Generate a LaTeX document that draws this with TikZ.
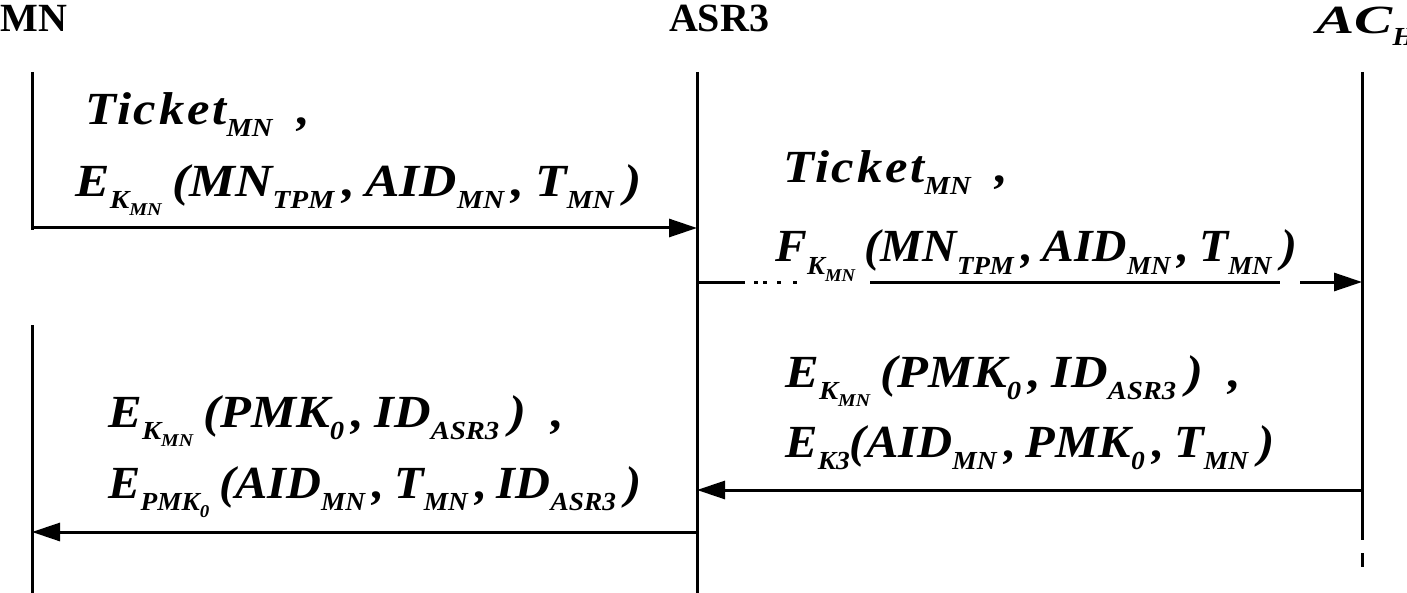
\documentclass[tikz,border=0pt]{standalone}
\usepackage{fontspec}
\setmainfont{Liberation Serif}
\newfontfamily\msgfam[FakeStretch=1.1]{Liberation Serif}
\newfontfamily\tickfam[FakeStretch=1.1,LetterSpace=6]{Liberation Serif}
\usetikzlibrary{arrows.meta}
\newcommand\lsub[1]{\raisebox{-6pt}{\fontsize{13}{13}\selectfont #1}}
\newcommand\lsubsub[1]{\raisebox{-3.5pt}{\fontsize{9}{9}\selectfont #1}}
\newcommand\tck{{\tickfam\bfseries\itshape Ticket}}
\newcommand\hs[2]{\scalebox{#1}[1]{#2}}
\begin{document}
\begin{tikzpicture}[x=0.5pt,y=-0.5pt,
  life/.style={line width=1.5pt},
  msg/.style={line width=1.5pt,-{Triangle[length=14pt,width=9pt]}},
  head/.style={font=\bfseries\fontsize{20}{22}\selectfont,inner sep=0pt},
  txt/.style={font=\msgfam\bfseries\itshape\fontsize{23}{26}\selectfont,inner sep=0pt,anchor=base west}]
\useasboundingbox (0,0) rectangle (1407,593);
% heads
\node[head,anchor=west] (mn) at (0,18) {MN};
\node[head] (asr) at (719,18) {ASR3};
\node[head,font=\msgfam\bfseries\itshape\fontsize{20}{22}\selectfont,anchor=base west] (ac) at (1316,34) {\scalebox{1.3}[1]{AC}\lsub{H}};
% lifeline coordinates
\coordinate (mnT) at (32,72);
\coordinate (mnA) at (32,230);
\coordinate (mnB) at (32,325);
\coordinate (mnE) at (32,593);
\coordinate (asT) at (697,72);
\coordinate (asE) at (697,593);
\coordinate (acT) at (1362,72);
\coordinate (acA) at (1362,540);
\coordinate (acB) at (1362,553);
\coordinate (acC) at (1362,567);
\draw[life] (mnT) -- (mnA);
\draw[life] (mnB) -- (mnE);
\draw[life] (asT) -- (asE);
\draw[life] (acT) -- (acA);
\draw[life] (acB) -- (acC);
% message coordinates
\coordinate (m1s) at (32,228);
\coordinate (m1e) at (697,228);
\coordinate (m2s) at (697,282);
\coordinate (m2e) at (1362,282);
\coordinate (m3s) at (1362,490);
\coordinate (m3e) at (697,490);
\coordinate (m4s) at (697,532);
\coordinate (m4e) at (32,532);
\draw[msg] (m1s) -- (m1e);
\draw[msg,dash pattern=on 24pt off 4.5pt on 2pt off 2.5pt on 2pt off 5pt on 2pt off 6pt on 2pt off 36.5pt on 205pt off 10pt on 40pt] (m2s) -- (m2e);
\draw[msg] (m3s) -- (m3e);
\draw[msg] (m4s) -- (m4e);
% texts
\node[txt] (l1) at (85,125) {\tck\lsub{MN}\ \ ,};
\node[txt] (l2) at (75,197) {\hs{1.02}{E\lsub{K\lsubsub{MN}}\:(MN\lsub{TPM}\,,\:AID\lsub{MN}\,,\:T\lsub{MN}\:)}};
\node[txt] (r1) at (783,183) {\tck\lsub{MN}\ \ ,};
\node[txt] (r2) at (775,262) {\hs{0.94}{F\lsub{K\lsubsub{MN}}\:(MN\lsub{TPM}\,,\:AID\lsub{MN}\,,\:T\lsub{MN}\:)}};
\node[txt] (r3) at (785,387) {E\lsub{K\lsubsub{MN}}\:(PMK\lsub{0}\,,\:ID\lsub{ASR3}\:)\ \ ,};
\node[txt] (r4) at (785,457) {\hs{0.96}{E\lsub{K3}(AID\lsub{MN}\,,\:PMK\lsub{0}\,,\:T\lsub{MN}\:)}};
\node[txt] (b1) at (108,427) {E\lsub{K\lsubsub{MN}}\:(PMK\lsub{0}\,,\:ID\lsub{ASR3}\:)\ \ ,};
\node[txt] (b2) at (108,498) {\hs{0.955}{E\lsub{PMK\lsubsub{0}}\:(AID\lsub{MN}\,,\:T\lsub{MN}\,,\:ID\lsub{ASR3}\:)}};
\end{tikzpicture}
\end{document}
